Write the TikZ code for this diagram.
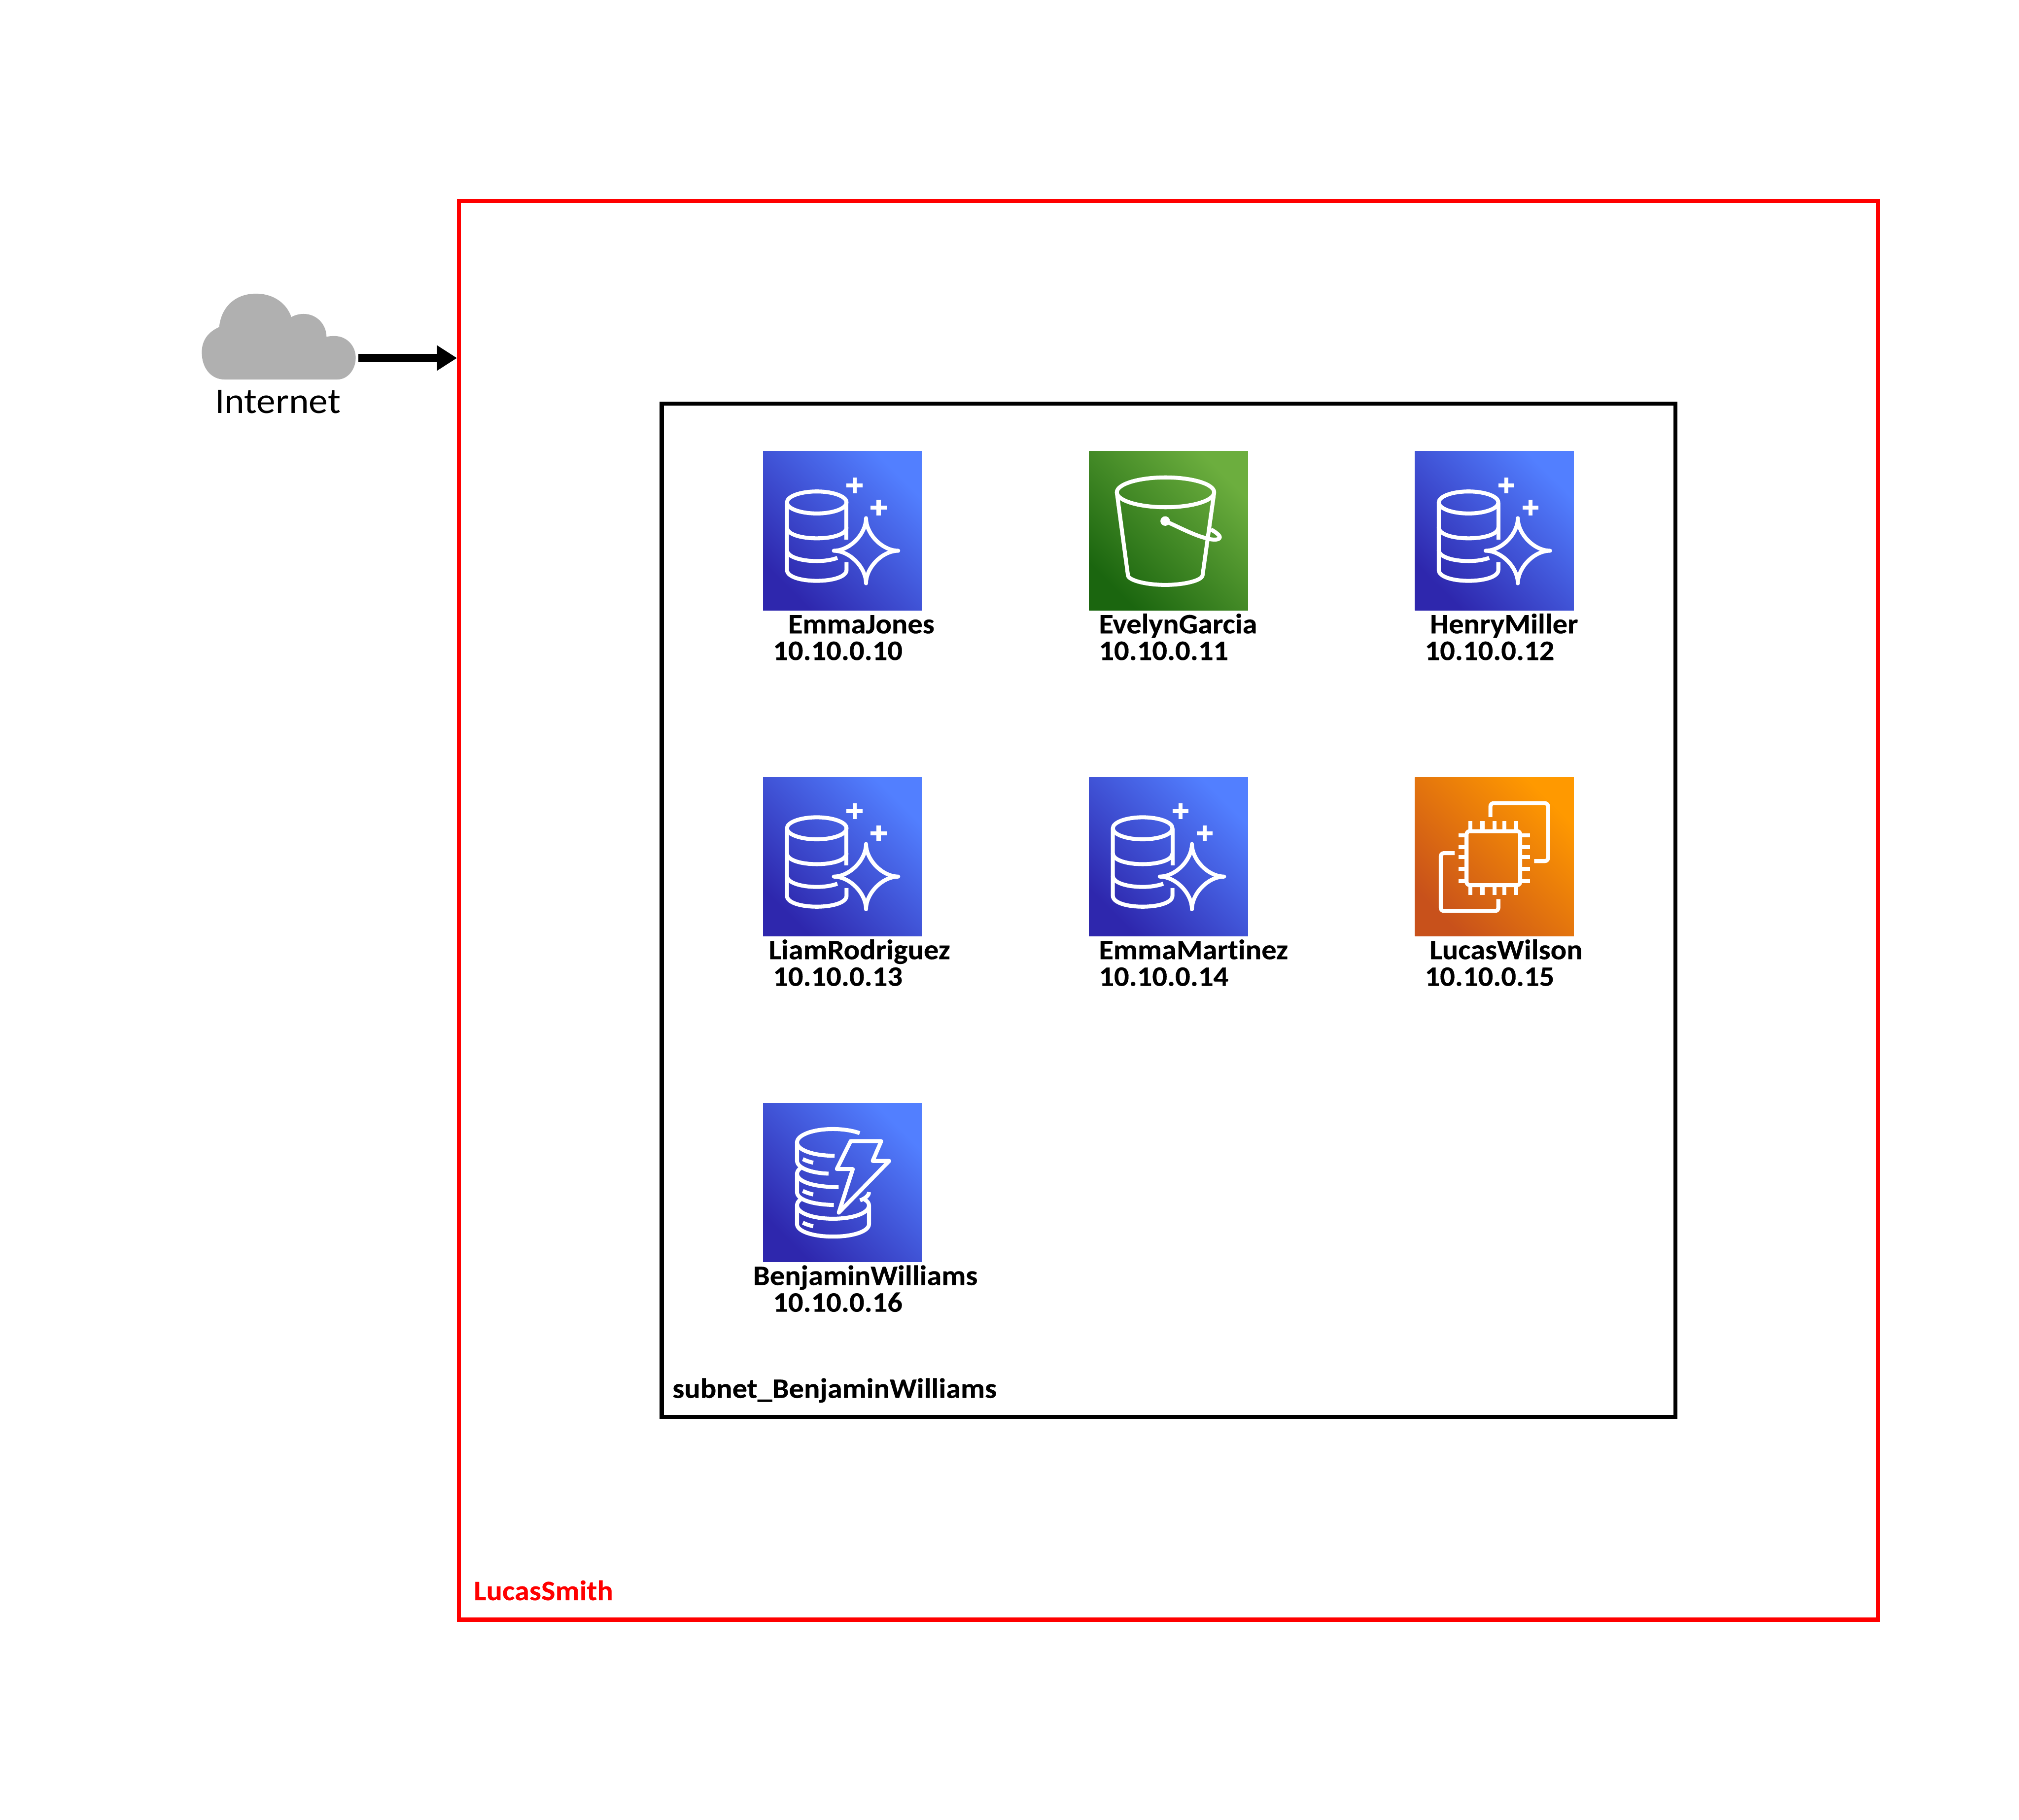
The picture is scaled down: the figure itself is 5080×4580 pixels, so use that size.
\documentclass[tikz,border=0pt]{standalone}
\usepackage{fontspec}
\setmainfont{Carlito}[FakeStretch=1.055,Ligatures=NoCommon,BoldFeatures={FakeBold=0.25}]
\usetikzlibrary{arrows.meta}
\definecolor{dbdark}{HTML}{2E27AD}
\definecolor{dblight}{HTML}{527FFF}
\definecolor{sdark}{HTML}{1B660F}
\definecolor{slight}{HTML}{6CAE3E}
\definecolor{ecdark}{HTML}{C8511B}
\definecolor{eclight}{HTML}{FF9900}
\definecolor{cloudgrey}{HTML}{B0B0B0}
\tikzset{
  x=0.2pt,y=-0.2pt,
  iconbox/.style={inner sep=0pt,outer sep=0pt,minimum size=80pt},
  dbbox/.style={iconbox,bottom color=dbdark,top color=dblight,shading angle=-45},
  s3box/.style={iconbox,bottom color=sdark,top color=slight,shading angle=-45},
  ecbox/.style={iconbox,bottom color=ecdark,top color=eclight,shading angle=-45},
  glyph/.style={draw=white,line width=2pt,line join=round},
  namelabel/.style={anchor=base west,inner sep=0pt,font=\fontsize{14.2}{17}\selectfont\bfseries},
  framebox/.style={draw,line width=2pt,inner sep=0pt,fill=none},
  auroraicon/.pic={
    \draw[glyph] (135,128.5) ellipse [x radius=75,y radius=27.7];
    \draw[glyph] (60,128.5) -- (60,298) .. controls (60,335) and (210,335) .. (210,298) -- (210,278.6);
    \draw[glyph] (210,128.5) -- (210,222);
    \draw[glyph] (60,191) .. controls (60,228) and (210,228) .. (210,191);
    \draw[glyph] (60,248) .. controls (60,266) and (97,276) .. (135,276) .. controls (155,276) and (173,273) .. (187,268);
    \draw[glyph,line cap=round] (259,168) .. controls (259,208) and (300,250) .. (340,250) .. controls (300,250) and (259,292) .. (259,332) .. controls (259,292) and (218,250) .. (178,250) .. controls (218,250) and (259,208) .. (259,168) -- cycle;
    \draw[glyph] (210,85.5) -- (250,85.5) (230,65.5) -- (230,105.5);
    \draw[glyph] (270.7,141) -- (310.7,141) (290.7,121) -- (290.7,161);
  },
  bucketicon/.pic={
    \draw[glyph] (192.5,103) ellipse [x radius=122.5,y radius=37.5];
    \draw[glyph] (191.7,175.3) .. controls (225,190) and (262,210) .. (293,218) .. controls (305,222) and (326,225) .. (329,217) .. controls (331,212) and (316,201) .. (306.7,196.5);
    \fill[white] (191.7,175.3) ellipse [x radius=12,y radius=12];
    \draw[glyph] (70,103) -- (98,312) .. controls (100,325) and (145,336) .. (192,336) .. controls (239,336) and (284,325) .. (285.7,312) -- (315,103);
  },
  chipicon/.pic={
    \draw[glyph,rounded corners=1.6pt] (130,135.7) rectangle (265,271.5);
    \foreach \px in {140,170,200,225,255}{
      \draw[glyph] (\px,110.7) -- (\px,135);
      \draw[glyph] (\px,272) -- (\px,296.5);
    }
    \foreach \py in {145.7,175.7,201,231,261}{
      \draw[glyph] (110,\py) -- (130,\py);
      \draw[glyph] (265,\py) -- (290,\py);
    }
    \draw[glyph,rounded corners=1.6pt] (190,100.3) -- (190,65.3) -- (335,65.3) -- (335,211) -- (300,211);
    \draw[glyph,rounded corners=1.6pt] (100,191) -- (65,191) -- (65,336.5) -- (210,336.5) -- (210,306.5);
  },
  dynamoicon/.pic={
    \draw[glyph] (243,75.7) .. controls (225,69) and (200,65.3) .. (176,65.3) .. controls (126,65.3) and (85.4,80) .. (85.4,99) .. controls (85.4,118) and (126,132.6) .. (180,132.6);
    \draw[glyph] (85.4,99) -- (85.4,145) .. controls (85.4,163) and (120,176) .. (164.6,177.6);
    \draw[glyph] (94,164) .. controls (88,168) and (85.4,173) .. (85.4,178) .. controls (85.4,197) and (126,211.5) .. (190,211.5);
    \draw[glyph] (85.4,178) -- (85.4,224) .. controls (85.4,242) and (120,255) .. (178,256.5);
    \draw[glyph] (94,243) .. controls (88,247) and (85.4,252) .. (85.4,257.6) -- (85.4,304.6) .. controls (85.4,323) and (126,336) .. (176,336) .. controls (226,336) and (266.5,323) .. (266.5,304.6) -- (266.5,257.6) .. controls (266.5,252) and (263,247) .. (255.8,243);
    \draw[glyph] (85.4,257.6) .. controls (85.4,277) and (126,291) .. (176,291) .. controls (226,291) and (266.5,277) .. (266.5,257.6);
    \draw[glyph] (244,245) .. controls (256,240) and (266.5,233) .. (266.5,224);
    \foreach \dy in {0,80,160}{
      \draw[glyph] (100,141+\dy) .. controls (108,145+\dy) and (117,148+\dy) .. (126,150+\dy);
    }
    \draw[glyph] (220.4,95.7) -- (297.3,95.7) -- (275.7,145.7) -- (317.3,145.7) -- (190.4,275.7) -- (225.8,166) -- (185.4,166) -- cycle;
  },
}
\begin{document}
\begin{tikzpicture}
\useasboundingbox (0,0) rectangle (5080,4580);
\fill[white] (0,0) rectangle (5080,4580);

% frames
\node[framebox,draw=red,minimum width=714pt,minimum height=714pt] (vpc) at (2940,2291) {};
\node[framebox,draw=black,minimum width=510pt,minimum height=510pt] (subnet) at (2940,2291) {};

% icons
\node[dbbox] (emmajones) at (2120,1336) {};
\node[s3box] (evelyngarcia) at (2940,1336) {};
\node[dbbox] (henrymiller) at (3760,1336) {};
\node[dbbox] (liamrodriguez) at (2120,2156) {};
\node[dbbox] (emmamartinez) at (2940,2156) {};
\node[ecbox] (lucaswilson) at (3760,2156) {};
\node[dbbox] (benjaminwilliams) at (2120,2976) {};
\pic at (emmajones.north west) {auroraicon};
\pic at (evelyngarcia.north west) {bucketicon};
\pic at (henrymiller.north west) {auroraicon};
\pic at (liamrodriguez.north west) {auroraicon};
\pic at (emmamartinez.north west) {auroraicon};
\pic at (lucaswilson.north west) {chipicon};
\pic at (benjaminwilliams.north west) {dynamoicon};

% labels
\node[namelabel] (n1) at (1982,1594) {EmmaJones};
\node[namelabel] (i1) at (1944,1661) {10.10.0.10};
\node[namelabel] (n2) at (2764,1594) {EvelynGarcia};
\node[namelabel] (i2) at (2764,1661) {10.10.0.11};
\node[namelabel] (n3) at (3597,1594) {HenryMiller};
\node[namelabel] (i3) at (3584,1661) {10.10.0.12};
\node[namelabel] (n4) at (1933,2414) {LiamRodriguez};
\node[namelabel] (i4) at (1944,2481) {10.10.0.13};
\node[namelabel] (n5) at (2764,2414) {EmmaMartinez};
\node[namelabel] (i5) at (2764,2481) {10.10.0.14};
\node[namelabel] (n6) at (3596,2414) {LucasWilson};
\node[namelabel] (i6) at (3584,2481) {10.10.0.15};
\node[namelabel] (n7) at (1894,3234) {BenjaminWilliams};
\node[namelabel] (i7) at (1944,3301) {10.10.0.16};
\node[namelabel] (subnetlabel) at (1691,3518) {subnet\_BenjaminWilliams};
\node[namelabel,text=red] (vpclabel) at (1191,4027) {LucasSmith};

% cloud
\node[inner sep=0pt,outer sep=0pt,minimum width=78pt,minimum height=43.2pt] (cloud) at (702,847) {};
\fill[cloudgrey] (565,955) .. controls (530,955) and (507.7,925) .. (507.7,887) .. controls (507.7,855) and (525,835) .. (551.5,823) .. controls (556,775) and (590,739) .. (644,739) .. controls (690,739) and (722,765) .. (733,798) .. controls (742,793) and (752,790) .. (764,790) .. controls (796,790) and (821,815) .. (821.5,847.7) .. controls (828,846) and (835,845.7) .. (842,845.7) .. controls (872,845.7) and (895,870) .. (895,900) .. controls (895,930) and (875,955) .. (849,955) -- cycle;
\node[anchor=base west,inner sep=0pt,font=\fontsize{18.2}{22}\selectfont] (internetlabel) at (540,1040) {Internet};

% connector
\coordinate (arrowstart) at (902,901);
\draw[line width=4pt,-{Triangle[length=10.2pt,width=12.2pt]}] (arrowstart) -- (vpc.west |- arrowstart);
\end{tikzpicture}
\end{document}
